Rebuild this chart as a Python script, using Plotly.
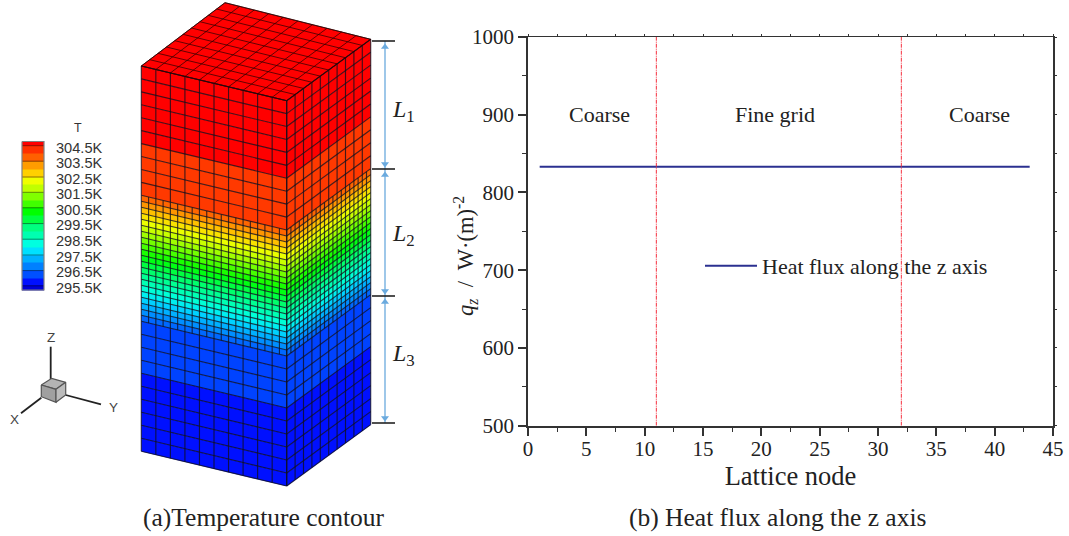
import plotly.graph_objects as go

W, H = 1069, 536
SERIF = "Liberation Serif"
SANS = "Liberation Sans"

# ---------- right panel data ----------
lattice_nodes = [1, 43]
heat_flux = [833, 833]
interface_nodes = [11, 32]
x_ticks = [0, 5, 10, 15, 20, 25, 30, 35, 40, 45]
y_ticks = [500, 600, 700, 800, 900, 1000]
region_labels = ["Coarse", "Fine grid", "Coarse"]
region_x = [6.1, 21.2, 38.7]
region_y = [900, 900, 900]

# ---------- left panel data ----------
band_T = [304.7, 304.25, 303.75, 303.25, 302.75, 302.25, 301.75, 301.25, 300.75, 300.25,
          299.75, 299.25, 298.75, 298.25, 297.75, 297.25, 296.75, 296.25, 295.75, 295.3]
band_colors = ["#ff0000", "#ff3000", "#ff6000", "#ff9c00", "#ffd000", "#f0ff00", "#c0ff00",
               "#80ff00", "#40ff00", "#00ff00", "#00ff40", "#00ff80", "#00ffb0", "#00ffe0",
               "#00e0ff", "#00b0ff", "#0080ff", "#0050ff", "#0010ff", "#0000d8"]
legend_labels = ["304.5K", "303.5K", "302.5K", "301.5K", "300.5K",
                 "299.5K", "298.5K", "297.5K", "296.5K", "295.5K"]
row_T_top = [304.7] * 6 + [304.15] * 4
row_T_fine = [303.7, 303.3, 302.9, 302.55, 302.2, 301.85, 301.5, 301.15, 300.8, 300.45, 300.1,
              299.75, 299.4, 299.05, 298.7, 298.35, 298.0, 297.6, 297.25, 296.9, 296.5]
row_T_bottom = [296.15] * 4 + [295.75] * 6


def hex2rgb(c):
    return tuple(int(c[i:i + 2], 16) for i in (1, 3, 5))


def t_color(t):
    if t >= band_T[0]:
        return band_colors[0]
    if t <= band_T[-1]:
        return band_colors[-1]
    for i in range(len(band_T) - 1):
        a, b = band_T[i], band_T[i + 1]
        if b <= t <= a:
            f = (a - t) / (a - b)
            c1, c2 = hex2rgb(band_colors[i]), hex2rgb(band_colors[i + 1])
            return "rgb(%d,%d,%d)" % tuple(c1[k] + (c2[k] - c1[k]) * f for k in range(3))


fig = go.Figure()
PX = dict(xaxis="x2", yaxis="y2", showlegend=False, hoverinfo="skip")

# box geometry (page position of the drawing)
left_top = (141.3, 66.0)
front_top = (286.7, 100.7)
right_top = (370.7, 39.3)
back_top = (225.0, 2.7)
seg_heights = [129.3, 126.0, 130.0]
seg_rows = [10, 21, 10]
seg_cols = [10, 20, 10]


def lerp(a, b, f):
    return a + (b - a) * f


row_edges = [0.0]
for h, n in zip(seg_heights, seg_rows):
    for i in range(n):
        row_edges.append(row_edges[-1] + h / n)
row_T = row_T_top + row_T_fine + row_T_bottom

# colour strips
for r, t in enumerate(row_T):
    z0, z1 = row_edges[r], row_edges[r + 1] + 0.3
    xs, ys = [], []
    for A, B in ((left_top, front_top), (front_top, right_top)):
        xs += [A[0], B[0], B[0], A[0], A[0], None]
        ys += [A[1] + z0, B[1] + z0, B[1] + z1, A[1] + z1, A[1] + z0, None]
    fig.add_trace(go.Scatter(x=xs, y=ys, mode="lines", fill="toself", fillcolor=t_color(t),
                             line=dict(width=0), **PX))

# top face
fig.add_trace(go.Scatter(x=[left_top[0], back_top[0], right_top[0], front_top[0], left_top[0]],
                         y=[left_top[1], back_top[1], right_top[1], front_top[1], left_top[1]],
                         mode="lines", fill="toself", fillcolor="#ff0000",
                         line=dict(width=1, color="rgba(40,0,0,0.75)"), **PX))

# mesh lines
mx, my = [], []
for A, B in ((left_top, front_top), (front_top, right_top)):
    for z in row_edges:
        mx += [A[0], B[0], None]
        my += [A[1] + z, B[1] + z, None]
    z = 0.0
    for h, c in zip(seg_heights, seg_cols):
        for i in range(c + 1):
            f = i / c
            x = lerp(A[0], B[0], f)
            y = lerp(A[1], B[1], f)
            mx += [x, x, None]
            my += [y + z, y + z + h, None]
        z += h
fig.add_trace(go.Scatter(x=mx, y=my, mode="lines",
                         line=dict(width=1.15, color="rgba(15,15,30,0.78)"), **PX))
tx, ty = [], []
for i in range(11):
    f = i / 10
    tx += [lerp(left_top[0], back_top[0], f), lerp(front_top[0], right_top[0], f), None]
    ty += [lerp(left_top[1], back_top[1], f), lerp(front_top[1], right_top[1], f), None]
    tx += [lerp(left_top[0], front_top[0], f), lerp(back_top[0], right_top[0], f), None]
    ty += [lerp(left_top[1], front_top[1], f), lerp(back_top[1], right_top[1], f), None]
fig.add_trace(go.Scatter(x=tx, y=ty, mode="lines",
                         line=dict(width=1, color="rgba(50,0,0,0.75)"), **PX))

# dimension lines
dim_y = [41, 169, 296, 423]
dim_x = [372, 395]
arrow_x = 385
bx, by = [], []
for y in dim_y:
    bx += [dim_x[0], dim_x[1], None]
    by += [y, y, None]
fig.add_trace(go.Scatter(x=[arrow_x, arrow_x], y=[dim_y[0], dim_y[-1]], mode="lines",
                         line=dict(width=1.3, color="#6aaade"), **PX))
fig.add_trace(go.Scatter(x=bx, y=by, mode="lines", line=dict(width=1.6, color="#222222"), **PX))
fig.add_trace(go.Scatter(x=[arrow_x] * 3, y=[y + 6 for y in dim_y[:3]], mode="markers",
                         marker=dict(symbol="triangle-up", size=7, color="#6aaade"), **PX))
fig.add_trace(go.Scatter(x=[arrow_x] * 3, y=[y - 5 for y in dim_y[1:]], mode="markers",
                         marker=dict(symbol="triangle-down", size=7, color="#6aaade"), **PX))

# colour bar
bar_lines = [145.7, 161.2, 177.0, 192.3, 207.8, 223.6, 239.2, 255.0, 270.6, 285.8]
bar_top, bar_bottom = 141.5, 290.0
edges = [bar_top]
for i, y in enumerate(bar_lines):
    edges.append(y)
    if i < len(bar_lines) - 1:
        edges.append((y + bar_lines[i + 1]) / 2)
edges.append(bar_bottom)
n = len(band_colors)
scale = []
for i, c in enumerate(band_colors):
    scale += [[i / n, c], [(i + 1) / n, c]]
fig.add_trace(go.Heatmap(x=[22, 44], y=edges, z=[[i] for i in range(n)], zmin=-0.5, zmax=n - 0.5,
                         colorscale=scale, showscale=False, xaxis="x2", yaxis="y2", hoverinfo="skip"))
lx, ly = [], []
for y in bar_lines:
    lx += [22, 44, None]
    ly += [y, y, None]
fig.add_trace(go.Scatter(x=lx, y=ly, mode="lines", line=dict(width=1, color="rgba(0,0,0,0.45)"), **PX))
fig.add_trace(go.Scatter(x=[22, 44, 44, 22, 22], y=[bar_top, bar_top, bar_bottom, bar_bottom, bar_top],
                         mode="lines", line=dict(width=1.2, color="#808080"), **PX))

# orientation triad
for xs, ys in (([50.7, 50.7], [346.7, 379]), ([65.7, 101], [395, 404.3]), ([41.3, 21], [397.7, 413.3])):
    fig.add_trace(go.Scatter(x=xs, y=ys, mode="lines", line=dict(width=1.8, color="#222222"), **PX))
for xs, ys, c in (([41.3, 51.7, 65.7, 56, 41.3], [385, 378.3, 382.3, 389.3, 385], "#b4b4b4"),
                  ([41.3, 56, 56, 41.3, 41.3], [385, 389.3, 402.3, 396.7, 385], "#a0a0a0"),
                  ([56, 65.7, 65.7, 56, 56], [389.3, 382.3, 395, 402.3, 389.3], "#bcbcbc")):
    fig.add_trace(go.Scatter(x=xs, y=ys, mode="lines", fill="toself", fillcolor=c,
                             line=dict(width=1.2, color="#555555"), **PX))

# right panel marks
fig.add_trace(go.Scatter(x=lattice_nodes, y=heat_flux, mode="lines", name="Heat flux along the z axis",
                         line=dict(color="#2b3090", width=2), xaxis="x", yaxis="y"))
for xv in interface_nodes:
    fig.add_trace(go.Scatter(x=[xv, xv], y=[500, 1000], mode="lines", showlegend=False, hoverinfo="skip",
                             line=dict(color="#f5303f", width=1, dash="4px,1px,1px,1px"), xaxis="x", yaxis="y"))
fig.add_trace(go.Scatter(x=[None], y=[None], xaxis="x3", yaxis="y3", showlegend=False, hoverinfo="skip"))

# text
ann = []


def px_text(x, y, text, size, font=SERIF, color="#222222", xanchor="center", angle=0):
    ann.append(dict(x=x, y=y, xref="x2", yref="y2", text=text, showarrow=False, xanchor=xanchor,
                    yanchor="middle", textangle=angle, font=dict(family=font, size=size, color=color)))


for lab, xv, yv in zip(region_labels, region_x, region_y):
    ann.append(dict(x=xv, y=yv, xref="x", yref="y", text=lab, showarrow=False,
                    font=dict(family=SERIF, size=22, color="#222222")))
px_text(264, 517, "(a)Temperature contour", 25.5)
px_text(777, 517, "(b) Heat flux along the z axis", 25.5)
px_text(403, 111, "<i>L</i><sub>1</sub>", 24)
px_text(403, 235, "<i>L</i><sub>2</sub>", 24)
px_text(403, 355, "<i>L</i><sub>3</sub>", 24)
px_text(78, 128, "T", 12.5, SANS, "#333333")
for lab, y in zip(legend_labels, bar_lines):
    px_text(53.5, y + 1.8, lab, 14.6, SANS, "#333333", "left")
px_text(50.7, 337, "Z", 13.5, SANS, "#444444")
px_text(113.3, 407, "Y", 13.5, SANS, "#444444")
px_text(14, 419.5, "X", 13.5, SANS, "#444444")
px_text(465, 256, "<i>q<sub>z</sub></i>  /  W·(m)<sup>-2</sup>", 22.5, angle=-90)

x_dom = [528 / W, 1053 / W]
y_dom = [1 - 425.7 / H, 1 - 37 / H]
AXC = "#333333"
fig.update_layout(
    width=W, height=H, margin=dict(l=0, r=0, t=0, b=0, autoexpand=False), paper_bgcolor="white",
    plot_bgcolor="rgba(0,0,0,0)", annotations=ann, hovermode=False,
    legend=dict(x=700 / W, y=1 - 266 / H, xanchor="left", yanchor="middle",
                bgcolor="rgba(0,0,0,0)", itemwidth=52, borderwidth=0,
                font=dict(family=SERIF, size=22, color="#222222")),
    xaxis=dict(domain=x_dom, range=[0, 45], tickmode="array", tickvals=x_ticks, ticks="outside", ticklen=8,
               tickwidth=1.5, tickcolor=AXC, showline=True, linecolor=AXC, linewidth=1.7, showgrid=False,
               zeroline=False, automargin=True, ticklabelstandoff=-5,
               tickfont=dict(family=SERIF, size=21, color="#222222"),
               minor=dict(tickmode="array", tickvals=[2.5 + 5 * i for i in range(9)], ticks="outside",
                          ticklen=4, tickwidth=1.2, tickcolor=AXC, showgrid=False),
               title=dict(text="Lattice node", standoff=0, font=dict(family=SERIF, size=26.5, color="#222222")),
               anchor="y"),
    yaxis=dict(domain=y_dom, range=[500, 1000], tickmode="array", tickvals=y_ticks, ticks="outside", ticklen=8,
               tickwidth=1.5, tickcolor=AXC, showline=True, linecolor=AXC, linewidth=1.7, showgrid=False,
               zeroline=False, automargin=False, tickfont=dict(family=SERIF, size=21, color="#222222"),
               minor=dict(tickmode="array", tickvals=[550 + 100 * i for i in range(5)], ticks="outside",
                          ticklen=4, tickwidth=1.2, tickcolor=AXC, showgrid=False),
               anchor="x"),
    xaxis2=dict(domain=[0, 1], range=[0, W], visible=False, anchor="y2", automargin=False),
    yaxis2=dict(domain=[0, 1], range=[H, 0], visible=False, anchor="x2", automargin=False),
    xaxis3=dict(domain=x_dom, range=[0, 45], overlaying="x", side="top", anchor="y3", tickmode="array",
                tickvals=[2.5 * i for i in range(19)], ticks="outside", ticklen=2, tickwidth=1, tickcolor=AXC,
                showticklabels=False, showline=True, linecolor=AXC, linewidth=1.4, showgrid=False, zeroline=False,
                automargin=False),
    yaxis3=dict(domain=y_dom, range=[500, 1000], overlaying="y", side="right", anchor="x3", tickmode="array",
                tickvals=[500 + 50 * i for i in range(11)], ticks="outside", ticklen=2, tickwidth=1, tickcolor=AXC,
                showticklabels=False, showline=True, linecolor=AXC, linewidth=1.7, showgrid=False, zeroline=False,
                automargin=False),
)
fig.write_html("out.html", config={"displayModeBar": False}, post_script="document.body.style.margin='0px';")
